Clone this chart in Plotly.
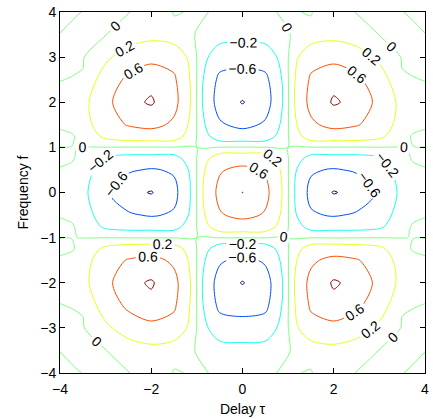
import plotly.graph_objects as go

# Sample positions (delay tau, frequency f)
tau = [-4, -3.75, -3.5, -3, -2.5, -2, -1.5, -1, -0.5, 0, 0.5, 1, 1.5, 2, 2.5, 3, 3.5, 3.75, 4]
freq = [-4, -3.5, -3, -2.5, -2, -1.5, -1.25, -1, -0.75, -0.5, 0,
        0.5, 0.75, 1, 1.25, 1.5, 2, 2.5, 3, 3.5, 4]

# Field values (one list per frequency row, columns follow tau)
row_f4 = [0.04, 0.02, -0.004, -0.04, -0.002, 0.03, -0.002, 0.003, -0.003, -0.04, -0.003, 0.003, -0.002, 0.03, -0.002, -0.04, -0.004, 0.02, 0.04]
row_f35 = [-0.003, -0.03, -0.05, -0.003, 0.06, 0.10, 0.01, -0.001, -0.06, -0.08, -0.06, -0.001, 0.01, 0.10, 0.06, -0.003, -0.05, -0.03, -0.003]
row_f3 = [-0.05, -0.03, -0.01, 0.15, 0.33, 0.47, 0.45, -0.004, -0.40, -0.42, -0.40, -0.004, 0.45, 0.47, 0.33, 0.15, -0.01, -0.03, -0.05]
row_f25 = [-0.003, 0.005, 0.01, 0.33, 0.70, 0.90, 0.66, -0.008, -0.70, -0.78, -0.70, -0.008, 0.66, 0.90, 0.70, 0.33, 0.01, 0.005, -0.003]
row_f2 = [0.04, 0.07, 0.10, 0.47, 0.90, 1.04, 0.73, -0.01, -0.79, -1.02, -0.79, -0.01, 0.73, 1.04, 0.90, 0.47, 0.10, 0.07, 0.04]
row_f15 = [0.01, 0.03, 0.05, 0.42, 0.63, 0.73, 0.52, -0.007, -0.54, -0.72, -0.54, -0.007, 0.52, 0.73, 0.63, 0.42, 0.05, 0.03, 0.01]
row_f125 = [-0.015, -0.01, 0.03, 0.26, 0.33, 0.35, 0.33, -0.004, -0.35, -0.37, -0.35, -0.004, 0.33, 0.35, 0.33, 0.26, 0.03, -0.01, -0.015]
row_f1 = [0.001, 0.001, -0.001, -0.005, -0.009, -0.01, -0.007, 0.0001, 0.007, 0.01, 0.007, 0.0001, -0.007, -0.01, -0.009, -0.005, -0.001, 0.001, 0.001]
row_f075 = [0.015, 0.01, -0.03, -0.25, -0.30, -0.30, -0.30, 0.004, 0.36, 0.38, 0.36, 0.004, -0.30, -0.30, -0.30, -0.25, -0.03, 0.01, 0.015]
row_f05 = [-0.005, -0.02, -0.06, -0.36, -0.55, -0.64, -0.55, 0.007, 0.56, 0.72, 0.56, 0.007, -0.55, -0.64, -0.55, -0.36, -0.06, -0.02, -0.005]
row_f0 = [-0.03, -0.06, -0.10, -0.55, -0.88, -1.025, -0.72, 0.01, 0.72, 1.005, 0.72, 0.01, -0.72, -1.025, -0.88, -0.55, -0.10, -0.06, -0.03]

Z = [row_f4, row_f35, row_f3, row_f25, row_f2, row_f15, row_f125, row_f1, row_f075, row_f05,
     row_f0,
     row_f05, row_f075, row_f1, row_f125, row_f15, row_f2, row_f25, row_f3, row_f35, row_f4]

levels = [-1.0, -0.6, -0.2, 0.0, 0.2, 0.6, 1.0]
level_colors = ["rgb(0,0,128)", "rgb(0,77,255)", "rgb(26,255,230)", "rgb(128,255,128)",
                "rgb(230,255,26)", "rgb(255,77,0)", "rgb(128,0,0)"]
labelled = [False, True, True, True, True, True, False]

x_ticks = [-4, -2, 0, 2, 4]
y_ticks = [-4, -3, -2, -1, 0, 1, 2, 3, 4]

FONT = "Liberation Sans, Arial, Helvetica, sans-serif"

fig = go.Figure()
for lev, col, lab in zip(levels, level_colors, labelled):
    fig.add_trace(go.Contour(
        x=tau, y=freq, z=Z,
        contours=dict(start=lev, end=lev, size=0.1, coloring="none",
                      showlabels=lab,
                      labelfont=dict(size=14, color="black", family=FONT)),
        line=dict(color=col, width=1, smoothing=0.9),
        showscale=False, hoverinfo="skip",
    ))

axis_common = dict(
    showgrid=False, zeroline=False, showline=True, linecolor="black", linewidth=1,
    mirror="ticks", ticks="inside", ticklen=5, tickcolor="black",
    ticklabeloverflow="allow",
    tickfont=dict(size=14, color="black", family=FONT),
    title_font=dict(size=14, color="black", family=FONT),
)
fig.update_xaxes(range=[-4.002, 4.002], tickvals=x_ticks, title_text="Delay τ",
                 title_standoff=8, ticklabelstandoff=3, **axis_common)
fig.update_yaxes(range=[-4.002, 4.002], tickvals=y_ticks, title_text="Frequency f",
                 title_standoff=8, **axis_common)
fig.update_layout(
    width=433, height=419,
    margin=dict(l=60, r=4, t=5, b=44),
    paper_bgcolor="white", plot_bgcolor="white",
    showlegend=False, font=dict(family=FONT, color="black"),
)
fig.write_html("out.html")
